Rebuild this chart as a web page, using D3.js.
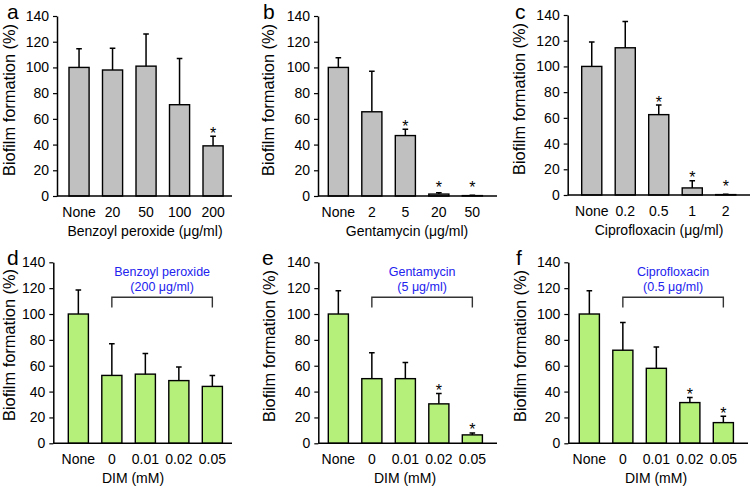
<!DOCTYPE html>
<html>
<head>
<meta charset="utf-8">
<script src="https://cdn.jsdelivr.net/npm/d3@7"></script>
<style>
  body { margin: 0; background: #fff; }
  text { font-family: "Liberation Sans", Arial, sans-serif; fill: #000; }
</style>
</head>
<body>
<script>
// ---- data ----
var yTicks = [0, 20, 40, 60, 80, 100, 120, 140];

var catsA = ["None", "20", "50", "100", "200"];
var meanA = [100, 98, 101, 71, 39];
var sdA = [14.5, 17, 25, 36, 7.5];
var starA = [0, 0, 0, 0, 1];

var catsB = ["None", "2", "5", "20", "50"];
var meanB = [100, 65.5, 47, 1.5, 0.3];
var sdB = [7.5, 31.5, 5, 1, 0.3];
var starB = [0, 0, 1, 1, 1];

var catsC = ["None", "0.2", "0.5", "1", "2"];
var meanC = [100, 114.5, 62.5, 5.5, 0.3];
var sdC = [19, 20.5, 7.5, 5.5, 0.3];
var starC = [0, 0, 1, 1, 1];

var catsDIM = ["None", "0", "0.01", "0.02", "0.05"];

var meanD = [100, 52.5, 53.5, 48.5, 44];
var sdD = [18.5, 24.5, 16, 10.5, 8.5];
var starD = [0, 0, 0, 0, 0];

var meanE = [100, 50, 50, 30.5, 6.5];
var sdE = [18, 20, 12.5, 8, 1.5];
var starE = [0, 0, 0, 1, 1];

var meanF = [100, 72, 58, 31.5, 16];
var sdF = [18, 21.5, 16.5, 4, 5];
var starF = [0, 0, 0, 1, 1];

var gray = "#c0c0c0";
var green = "#b5f07b";
var blue = "#2222ee";

// layout of each panel
var panels = [
  {letter: "a", lx: 7, ly: 19, cats: catsA, mean: meanA, sd: sdA, star: starA, fill: gray,
   title: "Benzoyl peroxide (\u03bcg/ml)", titleX: 145,
   axisX: 57, barStart: 69, axisEnd: 232, y0: 196, yTop: 16, labX: 15, labY: 100},
  {letter: "b", lx: 263, ly: 19, cats: catsB, mean: meanB, sd: sdB, star: starB, fill: gray,
   title: "Gentamycin (\u03bcg/ml)", titleX: 407,
   axisX: 318, barStart: 328.3, axisEnd: 497, y0: 196, yTop: 16, labX: 274, labY: 100},
  {letter: "c", lx: 515, ly: 19, cats: catsC, mean: meanC, sd: sdC, star: starC, fill: gray,
   title: "Ciprofloxacin (\u03bcg/ml)", titleX: 659,
   axisX: 567.7, barStart: 581.7, axisEnd: 750, y0: 195, yTop: 15, labX: 525, labY: 99},
  {letter: "d", lx: 7, ly: 265, cats: catsDIM, mean: meanD, sd: sdD, star: starD, fill: green,
   title: "DIM (mM)", titleX: 133, bracket: ["Benzoyl peroxide", "(200 \u03bcg/ml)"],
   axisX: 53.3, barStart: 68.3, axisEnd: 232, y0: 443.3, yTop: 262.3, labX: 15, labY: 345},
  {letter: "e", lx: 262, ly: 265, cats: catsDIM, mean: meanE, sd: sdE, star: starE, fill: green,
   title: "DIM (mM)", titleX: 405, bracket: ["Gentamycin", "(5 \u03bcg/ml)"],
   axisX: 318.3, barStart: 328.3, axisEnd: 497, y0: 443.3, yTop: 262.3, labX: 275, labY: 346},
  {letter: "f", lx: 516, ly: 265, cats: catsDIM, mean: meanF, sd: sdF, star: starF, fill: green,
   title: "DIM (mM)", titleX: 656, bracket: ["Ciprofloxacin", "(0.5 \u03bcg/ml)"],
   axisX: 568.3, barStart: 579.3, axisEnd: 748, y0: 443.3, yTop: 262.3, labX: 526, labY: 346}
];

var svg = d3.select("body").append("svg")
  .attr("width", 750)
  .attr("height", 489);

panels.forEach(function(p) {
  var step = 33.5;
  var y = d3.scaleLinear().domain([0, 140]).range([p.y0, p.yTop]);
  var x = d3.scaleBand()
    .domain(p.cats)
    .range([p.barStart - 0.2 * step, p.barStart - 0.2 * step + 5 * step])
    .paddingInner(0.4)
    .paddingOuter(0.2);
  var bw = x.bandwidth();

  var g = svg.append("g");

  // y axis
  var yAxis = d3.axisLeft(y).tickValues(yTicks).tickSize(4).tickSizeOuter(0).tickPadding(4);
  var ya = g.append("g")
    .attr("transform", `translate(${p.axisX},0)`)
    .call(yAxis);
  ya.select(".domain").attr("stroke", "#000").attr("stroke-width", 1.5);
  ya.selectAll(".tick line").attr("stroke", "#000").attr("stroke-width", 1.2);
  ya.selectAll("text").attr("font-size", "14px").attr("font-family", null);

  // x axis: labels only + baseline
  var xAxis = d3.axisBottom(x).tickSize(0).tickPadding(11);
  var xa = g.append("g")
    .attr("transform", `translate(0,${p.y0})`)
    .call(xAxis);
  xa.select(".domain").remove();
  xa.selectAll("text").attr("font-size", "14px").attr("font-family", null);

  // bars
  var rows = p.cats.map(function(c, i) {
    return {cat: c, mean: p.mean[i], sd: p.sd[i], star: p.star[i]};
  });

  g.selectAll(".bar")
    .data(rows)
    .enter()
    .append("rect")
    .attr("x", d => x(d.cat))
    .attr("y", d => y(d.mean))
    .attr("width", bw)
    .attr("height", d => p.y0 - y(d.mean))
    .attr("fill", p.fill)
    .attr("stroke", "#000")
    .attr("stroke-width", 1.4);

  // error bars (upper only, small cap)
  g.selectAll(".err")
    .data(rows)
    .enter()
    .append("path")
    .attr("d", function(d) {
      var cx = x(d.cat) + bw / 2;
      var t = y(d.mean + d.sd);
      return `M${cx},${y(d.mean)}V${t}M${cx - 2.8},${t}H${cx + 2.8}`;
    })
    .attr("fill", "none")
    .attr("stroke", "#000")
    .attr("stroke-width", 1.5);

  // stars
  g.selectAll(".star")
    .data(rows.filter(d => d.star))
    .enter()
    .append("text")
    .attr("x", d => x(d.cat) + bw / 2)
    .attr("y", d => Math.min(y(d.mean + d.sd) - 4.5, p.y0 - 10) + 7)
    .attr("text-anchor", "middle")
    .attr("font-size", "16px")
    .text("*");

  // x axis line
  g.append("line")
    .attr("x1", p.axisX)
    .attr("x2", p.axisEnd)
    .attr("y1", p.y0)
    .attr("y2", p.y0)
    .attr("stroke", "#000")
    .attr("stroke-width", 1.5);

  // titles
  g.append("text")
    .attr("x", p.titleX)
    .attr("y", p.y0 + 39.5)
    .attr("text-anchor", "middle")
    .attr("font-size", "14px")
    .text(p.title);

  g.append("text")
    .attr("transform", `translate(${p.labX},${p.labY}) rotate(-90)`)
    .attr("text-anchor", "middle")
    .attr("font-size", "16.4px")
    .text("Biofilm formation (%)");

  g.append("text")
    .attr("x", p.lx)
    .attr("y", p.ly)
    .attr("font-size", "21px")
    .text(p.letter);

  // bracket for combination panels
  if (p.bracket) {
    var x1 = x(p.cats[1]) + bw / 2;
    var x2 = x(p.cats[p.cats.length - 1]) + bw / 2;
    var bt = y(113), bb = y(105);
    g.append("path")
      .attr("d", `M${x1},${bb}V${bt}H${x2}V${bb}`)
      .attr("fill", "none")
      .attr("stroke", "#333")
      .attr("stroke-width", 1.4);
    g.append("text")
      .attr("x", (x1 + x2) / 2)
      .attr("y", bt - 21.5)
      .attr("text-anchor", "middle")
      .attr("font-size", "12.5px")
      .style("fill", blue)
      .text(p.bracket[0]);
    g.append("text")
      .attr("x", (x1 + x2) / 2)
      .attr("y", bt - 6.5)
      .attr("text-anchor", "middle")
      .attr("font-size", "12.5px")
      .style("fill", blue)
      .text(p.bracket[1]);
  }
});
</script>
</body>
</html>
